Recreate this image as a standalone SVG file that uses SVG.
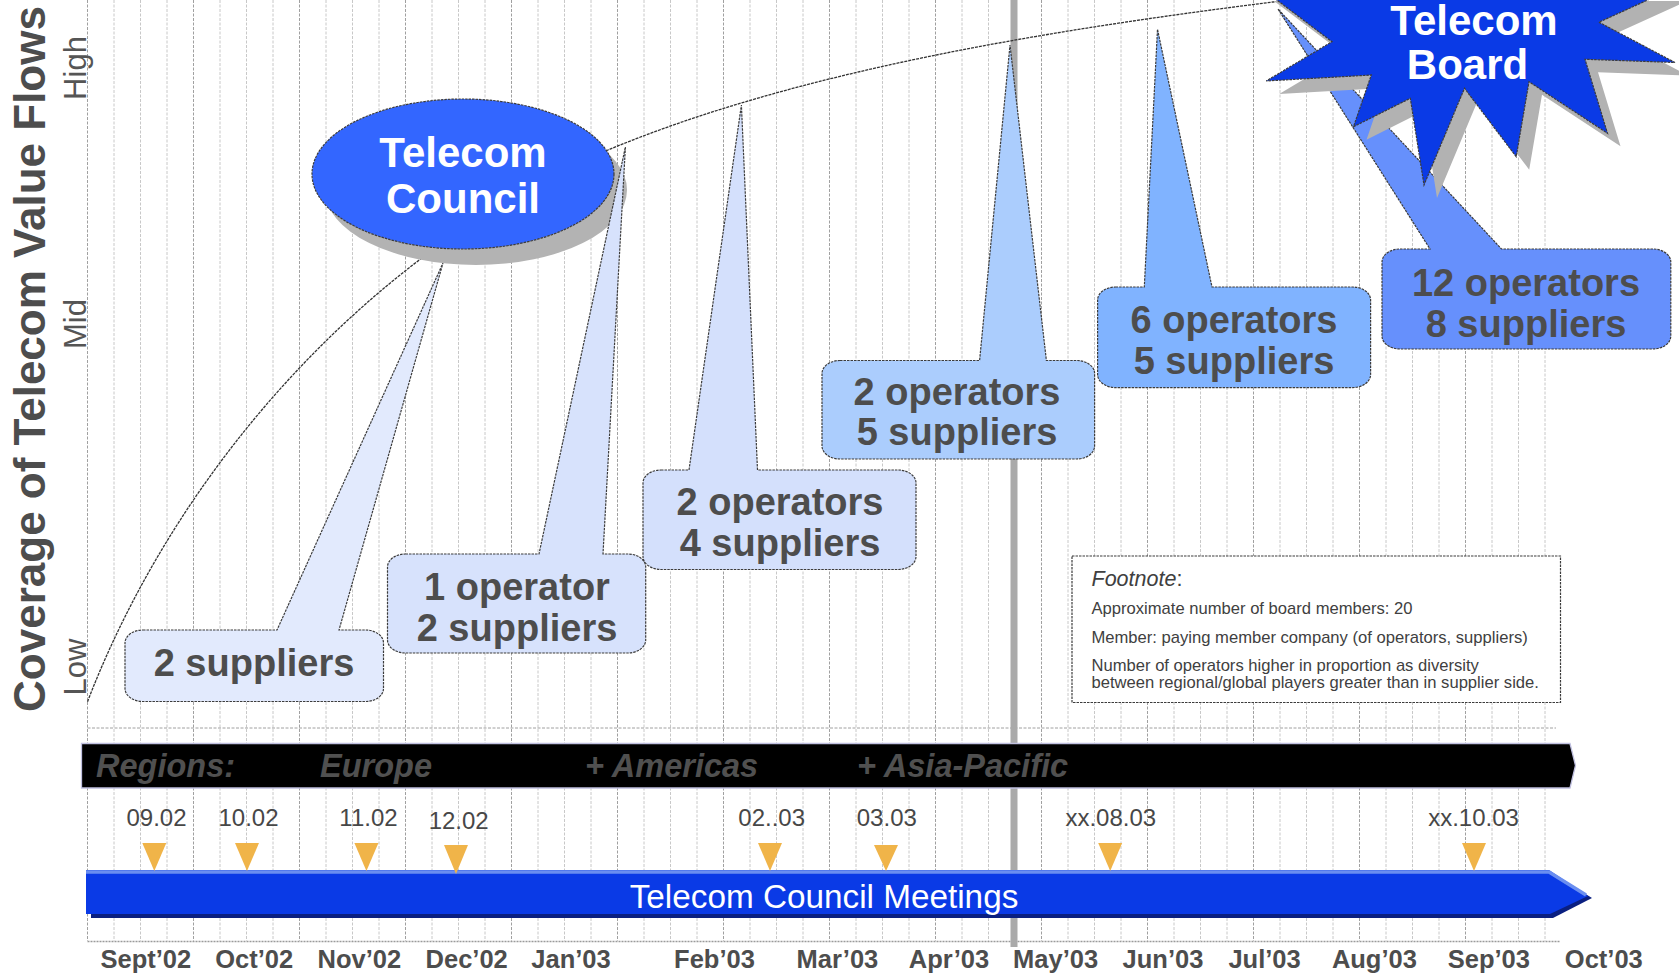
<svg xmlns="http://www.w3.org/2000/svg" width="1679" height="974" viewBox="0 0 1679 974">
<defs>
<style>
text{font-family:"Liberation Sans",Arial,sans-serif}
.gl{stroke:#c8c8c8;stroke-width:1;stroke-dasharray:3 1.5;fill:none}
.gd{stroke:#a0a0a0;stroke-width:1;stroke-dasharray:3 1.5;fill:none}
.ol{stroke:#3c3c3c;stroke-width:1.2;stroke-dasharray:2.5 1}
.ct{font-weight:bold;font-size:38px;fill:#4d4d4d;text-anchor:middle}
.wt{font-weight:bold;font-size:42px;fill:#fff;text-anchor:middle}
.rg{font-weight:bold;font-style:italic;font-size:32.5px;fill:#505050}
.dt{font-size:24px;fill:#474747;text-anchor:middle}
.mo{font-weight:bold;font-size:25.5px;fill:#4d4d4d;text-anchor:middle}
.ax{font-size:31px;fill:#555;text-anchor:middle}
.fn{font-size:16.6px;fill:#404040}
.tri{fill:#f0b449}
</style>
</defs>
<rect width="1679" height="974" fill="#fff"/>
<g id="grid">
<path class="gl" d="M114,0V941M140.5,0V941M167,0V941M220,0V941M246.5,0V941M273,0V941M326,0V941M352.5,0V941M379,0V941M432,0V941M458.5,0V941M485,0V941M538,0V941M564.5,0V941M591,0V941M644,0V941M670.5,0V941M697,0V941M750,0V941M776.5,0V941M803,0V941M856,0V941M882.5,0V941M909,0V941M962,0V941M988.5,0V941M1068,0V941M1094.5,0V941M1121,0V941M1174,0V941M1200.5,0V941M1227,0V941M1280,0V941M1306.5,0V941M1333,0V941M1386,0V941M1412.5,0V941M1439,0V941M1492,0V941M1518.5,0V941M1545,0V941"/>
<path class="gd" d="M87.5,0V941M193.5,0V941M299.5,0V941M405.5,0V941M511.5,0V941M617.5,0V941M723.5,0V941M829.5,0V941M935.5,0V941M1041.5,0V941M1147.5,0V941M1253.5,0V941M1359.5,0V941M1465.5,0V941"/>
<path class="gd" d="M87.5,728H1556"/>
<path d="M87.5,941.5H1560" stroke="#9a9a9a" stroke-width="1.6" stroke-dasharray="2 1" fill="none"/>
<path d="M1014,0V947" stroke="#aaaaaa" stroke-width="7" fill="none"/>
</g>
<g id="connectors">
<path d="M87.5,701.7C180,461 377.6,246 608,150C800,70 1050,30 1273,2L1300,-2" fill="none" stroke="#333" stroke-width="1.3" stroke-dasharray="3 1"/>
</g>
<g id="callout1">
<path class="ol" fill="#e2eafd" d="M143,630H277L443,263L339,630H365.5A18,13 0 0 1 383.5,643V688.5A18,13 0 0 1 365.5,701.5H143A18,13 0 0 1 125,688.5V643A18,13 0 0 1 143,630Z"/>
<text class="ct" x="254" y="676">2 suppliers</text>
</g>
<g id="telecom-council">
<ellipse cx="476" cy="190" rx="151" ry="75" fill="#b3b3b3"/>
<ellipse class="ol" cx="463" cy="174" rx="151" ry="75" fill="#3366ff"/>
<text class="wt" x="463" y="167">Telecom</text>
<text class="wt" x="463" y="213">Council</text>
</g>
<g id="callout2">
<path class="ol" fill="#d7e2fc" d="M405.5,554H539L625.4,147L603,554H627.7A18,13 0 0 1 645.7,567V640A18,13 0 0 1 627.7,653H405.5A18,13 0 0 1 387.5,640V567A18,13 0 0 1 405.5,554Z"/>
<text class="ct" x="517" y="600">1 operator</text>
<text class="ct" x="517" y="641">2 suppliers</text>
</g>
<g id="callout3">
<path class="ol" fill="#d4e0fc" d="M661,470H689L741.4,105L757.5,470H898A18,13 0 0 1 916,483V556.5A18,13 0 0 1 898,569.5H661A18,13 0 0 1 643,556.5V483A18,13 0 0 1 661,470Z"/>
<text class="ct" x="780" y="515">2 operators</text>
<text class="ct" x="780" y="556">4 suppliers</text>
</g>
<g id="callout4">
<path class="ol" fill="#abcdfd" d="M840,360.5H979.6L1010,45L1046.4,360.5H1076.6A18,13 0 0 1 1094.6,373.5V446A18,13 0 0 1 1076.6,459H840A18,13 0 0 1 822,446V373.5A18,13 0 0 1 840,360.5Z"/>
<text class="ct" x="957" y="405">2 operators</text>
<text class="ct" x="957" y="445">5 suppliers</text>
</g>
<g id="callout5">
<path class="ol" fill="#80b3ff" d="M1115.6,287H1144.3L1157.5,29.3L1212,287H1352.6A18,13 0 0 1 1370.6,300V374.6A18,13 0 0 1 1352.6,387.6H1115.6A18,13 0 0 1 1097.6,374.6V300A18,13 0 0 1 1115.6,287Z"/>
<text class="ct" x="1234" y="333">6 operators</text>
<text class="ct" x="1234" y="374">5 suppliers</text>
</g>
<g id="callout6">
<path class="ol" fill="#6690fc" d="M1400,249H1430L1278,9L1501.5,249H1652.8A18,13 0 0 1 1670.8,262V336A18,13 0 0 1 1652.8,349H1400A18,13 0 0 1 1382,336V262A18,13 0 0 1 1400,249Z"/>
<text class="ct" x="1526" y="296">12 operators</text>
<text class="ct" x="1526" y="337">8 suppliers</text>
</g>
<g id="telecom-board">
<polygon fill="#b2b2b2" transform="translate(13,13)" points="1261,-12 1332,41.7 1266.2,81 1371.3,75 1353.5,126.7 1410.3,98.3 1424,185 1464.5,88.3 1516.2,156.7 1529,81.7 1607.5,133.3 1585,59.3 1675,62.5 1598.9,22.2 1674,-12"/>
<polygon class="ol" fill="#0a3ae6" points="1261,-12 1332,41.7 1266.2,81 1371.3,75 1353.5,126.7 1410.3,98.3 1424,185 1464.5,88.3 1516.2,156.7 1529,81.7 1607.5,133.3 1585,59.3 1675,62.5 1598.9,22.2 1674,-12"/>
<text class="wt" x="1474" y="35" font-size="41">Telecom</text>
<text class="wt" x="1467.5" y="79" font-size="41">Board</text>
</g>
<g id="footnote">
<rect class="ol" x="1072" y="556" width="488.5" height="146.5" fill="#fff"/>
<text x="1091.5" y="585.7" font-size="21.5" fill="#404040"><tspan font-style="italic">Footnote</tspan>:</text>
<text class="fn" x="1091.5" y="614">Approximate number of board members: 20</text>
<text class="fn" x="1091.5" y="642.7">Member: paying member company (of operators, suppliers)</text>
<text class="fn" x="1091.5" y="670.7">Number of operators higher in proportion as diversity</text>
<text class="fn" x="1091.5" y="687.7">between regional/global players greater than in supplier side.</text>
</g>
<g id="regions">
<polygon points="81.5,743.5 1570,743.5 1575.5,765.5 1570,788 81.5,788" fill="#000" stroke="#c0c0e0" stroke-width="1.3"/>
<text class="rg" x="96" y="777">Regions:</text>
<text class="rg" x="320" y="777">Europe</text>
<text class="rg" x="585" y="777">+ Americas</text>
<text class="rg" x="857" y="777">+ Asia-Pacific</text>
</g>
<g id="meetings">
<polygon points="91,874 1553,874 1592,898 1553,918 91,918" fill="#0a1f80"/>
<polygon points="86,870 1549,870 1588,896 1550,914 86,914" fill="#0a3ae6"/>
<polyline points="86,872 1549,872 1586,895" fill="none" stroke="#6a8ef0" stroke-width="3.5"/>
<text x="824" y="907.5" font-size="33.3" fill="#fff" text-anchor="middle">Telecom Council Meetings</text>
</g>
<g id="meeting-dates">
<polygon class="tri" points="142.3,843 166.3,843 154.3,871"/>
<polygon class="tri" points="235,843 259,843 247,871"/>
<polygon class="tri" points="354.4,843 378.4,843 366.4,871"/>
<polygon class="tri" points="444,845 468,845 456,874"/>
<polygon class="tri" points="758,843 782,843 770,871"/>
<polygon class="tri" points="874,845 898,845 886,871"/>
<polygon class="tri" points="1098.2,843 1122.2,843 1110.2,871"/>
<polygon class="tri" points="1462,843 1486,843 1474,871"/>
<text class="dt" x="156.5" y="826">09.02</text>
<text class="dt" x="248.5" y="826">10.02</text>
<text class="dt" x="368.5" y="826">11.02</text>
<text class="dt" x="458.7" y="828.5">12.02</text>
<text class="dt" x="771.7" y="826">02..03</text>
<text class="dt" x="886.8" y="826">03.03</text>
<text class="dt" x="1110.8" y="826">xx.08.03</text>
<text class="dt" x="1473.5" y="826">xx.10.03</text>
</g>
<g id="axis-labels">
<text class="mo" x="145.8" y="967.5">Sept’02</text>
<text class="mo" x="254.2" y="967.5">Oct’02</text>
<text class="mo" x="359.3" y="967.5">Nov’02</text>
<text class="mo" x="466.7" y="967.5">Dec’02</text>
<text class="mo" x="571" y="967.5">Jan’03</text>
<text class="mo" x="714.5" y="967.5">Feb’03</text>
<text class="mo" x="837.4" y="967.5">Mar’03</text>
<text class="mo" x="949" y="967.5">Apr’03</text>
<text class="mo" x="1055.6" y="967.5">May’03</text>
<text class="mo" x="1163" y="967.5">Jun’03</text>
<text class="mo" x="1264.6" y="967.5">Jul’03</text>
<text class="mo" x="1374.4" y="967.5">Aug’03</text>
<text class="mo" x="1488.8" y="967.5">Sep’03</text>
<text class="mo" x="1603.8" y="967.5">Oct’03</text>
<text transform="translate(45,359) rotate(-90)" font-size="44" font-weight="bold" fill="#4d4d4d" text-anchor="middle">Coverage of Telecom Value Flows</text>
<text class="ax" transform="translate(86,68) rotate(-90)">High</text>
<text class="ax" transform="translate(86,324) rotate(-90)">Mid</text>
<text class="ax" transform="translate(86,667) rotate(-90)">Low</text>
</g>
</svg>
